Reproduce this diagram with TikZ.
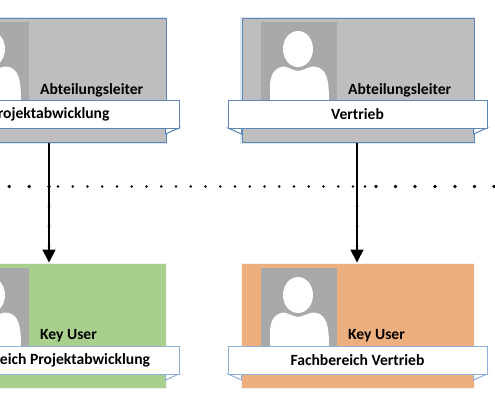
\documentclass[tikz,border=0pt]{standalone}
\usepackage{fontspec}
\setmainfont{Carlito}
\usetikzlibrary{arrows.meta,calc}
\definecolor{frameblue}{HTML}{5B86B5}
\definecolor{lightblue}{HTML}{8FB0D8}
\definecolor{greybox}{HTML}{BEBEBE}
\definecolor{greenbox}{HTML}{A9CF8C}
\definecolor{orangebox}{HTML}{EEAF7F}
\definecolor{photogrey}{HTML}{A9A9A9}
\tikzset{
  x=1pt,y=-1pt,
  card/.style={minimum width=232pt,minimum height=124pt,inner sep=0pt,anchor=north west},
  topcard/.style={card,fill=greybox,draw=frameblue,line width=1pt},
  lowcard/.style={card},
  topcardglow/.style={draw=lightblue!30,line width=3pt},
  lowcardglow/.style={draw=black!5,line width=2pt},
  ribbon/.style={minimum width=259pt,minimum height=28pt,inner sep=0pt,anchor=center,fill=white,line width=1pt,font=\fontsize{15.6}{17}\selectfont\bfseries},
  toprib/.style={ribbon,draw=frameblue},
  lowrib/.style={ribbon,draw=lightblue},
  role/.style={anchor=west,inner sep=0pt,font=\fontsize{15.6}{17}\selectfont\bfseries},
  photo/.style={fill=photogrey},
  flowarrow/.style={line width=1.6pt,-{Triangle[length=13pt,width=13pt]},shorten >=0.5pt},
  bigdot/.style={circle,fill=black,inner sep=0pt,minimum size=3.8pt},
  smalldot/.style={circle,fill=black,inner sep=0pt,minimum size=2.8pt}
}
% #1 name, #2 x offset, #3 y offset, #4 card style, #5 fill, #6 ribbon style, #7 tail colour, #8 role, #9 ribbon text
\newcommand{\personcard}[9]{
  \begin{scope}[shift={(#2,#3)}]
    \draw[#4glow] (241.5,18) rectangle (473.5,142);
    \node[#4,fill=#5] (#1box) at (241.5,18) {};
    \fill[photo] (261,22) rectangle (337,100);
    \fill[white] (270,100) -- (270,88) .. controls (270,78) and (272,70) .. (281,67) .. controls (286,65) and (288,69) .. (298,71)
       .. controls (308,69) and (311,65) .. (317,67) .. controls (326,70) and (329,78) .. (329,100) -- cycle;
    \fill[photo] (298,49) ellipse (17 and 21);
    \fill[white] (298,49) ellipse (15 and 18);
    \fill[white,draw=#7,line width=1pt] (228,128) -- (241.5,134) -- (241.5,128) -- cycle;
    \fill[white,draw=#7,line width=1pt] (487,128) -- (473.5,134) -- (473.5,128) -- cycle;
    \node[#6] (#1rib) at (357.5,114) {#9};
    \node[role] (#1role) at (348,90) {#8};
  \end{scope}
}
\begin{document}
\begin{tikzpicture}
\clip (0,0) rectangle (495,400);
\fill[white] (0,0) rectangle (495,400);
\personcard{a}{-308}{0}{topcard}{greybox}{toprib}{frameblue}{Abteilungsleiter}{Projektabwicklung}
\personcard{b}{0}{0}{topcard}{greybox}{toprib}{frameblue}{Abteilungsleiter}{Vertrieb}
\personcard{c}{-308}{246}{lowcard}{greenbox}{lowrib}{lightblue}{Key User}{Fachbereich Projektabwicklung}
\personcard{d}{0}{246}{lowcard}{orangebox}{lowrib}{lightblue}{Key User}{Fachbereich Vertrieb}
% dotted divider
\foreach \i/\px in {0/9.3,1/29.3,2/49,3/376,4/395.5,5/415,6/435,7/455,8/474.5,9/494}
  \node[bigdot] (big\i) at (\px,186.5) {};
\foreach \k in {0,...,20}
  \node[smalldot] (small\k) at ({58+\k*14.75},186.5) {};
\node[smalldot] (smallend) at (365,186.5) {};
% arrows
\coordinate (aout) at (49,142.5);
\coordinate (cin) at (49,263);
\coordinate (bout) at (357,142.5);
\coordinate (din) at (357,263);
\draw[flowarrow] (aout) -- (cin);
\draw[flowarrow] (bout) -- (din);
\foreach \py in {206,226,246}{
  \fill (49,\py) circle (1.5);
  \fill (357,\py) circle (1.5);
}
\end{tikzpicture}
\end{document}
